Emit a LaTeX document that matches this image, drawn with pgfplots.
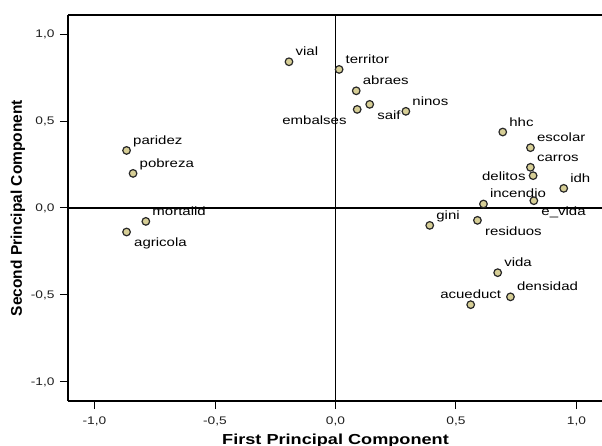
\documentclass[border=0pt]{standalone}
\usepackage{fontspec}
\setmainfont{Liberation Sans}[FakeStretch=1.25]
\newfontfamily\plainfont{Liberation Sans}
\usepackage{pgfplots}
\pgfplotsset{compat=1.18}
\definecolor{mk}{RGB}{214,206,150}
\definecolor{mkb}{RGB}{40,40,40}
\begin{document}
\begin{tikzpicture}
\begin{axis}[
  at={(0,0)}, anchor=south west,
  scale only axis, width=535bp, height=386bp,
  xmin=-1.11, xmax=1.11, ymin=-1.11, ymax=1.11,
  axis x line*=bottom, axis y line*=left,
  axis line style={line width=1.2bp, black},
  tick style={line width=1bp, black},
  major tick length=8bp, tick align=outside,
  xtick pos=bottom, ytick pos=left,
  xtick={-1,-0.5,0,0.5,1},
  xticklabels={{-1,0},{-0,5},{0,0},{0,5},{1,0}},
  ytick={-1,-0.5,0,0.5,1},
  yticklabels={{-1,0},{-0,5},{0,0},{0,5},{1,0}},
  xticklabel style={font=\fontsize{11bp}{12bp}\selectfont, yshift=-4bp, color={rgb,255:red,30;green,30;blue,30}},
  yticklabel style={font=\fontsize{11bp}{12bp}\selectfont, xshift=-2bp, color={rgb,255:red,30;green,30;blue,30}},
  xlabel={First Principal Component},
  ylabel={\plainfont Second Principal Component},
  every axis x label/.style={at={(axis description cs:0.5,-0.1114)}, anchor=base, font=\fontsize{14.5bp}{17bp}\selectfont\bfseries},
  every axis y label/.style={at={(axis description cs:-0.0935,0.5)}, anchor=center, rotate=90, font=\fontsize{15.5bp}{18bp}\selectfont\bfseries},
  clip=false,
  point meta=explicit symbolic,
  nodes near coords,
  every node near coord/.append style={font=\fontsize{12bp}{14bp}\selectfont, inner sep=0pt, text=black},
]
\draw[line width=1.2bp, black] (rel axis cs:0,1) -- (rel axis cs:1,1);
\draw[line width=1.2bp, black] (axis cs:0,-1.11) -- (axis cs:0,1.11);
\draw[line width=1.2bp, black] (axis cs:-1.11,0) -- (axis cs:1.11,0);
% above right
\addplot[only marks, mark=*, mark size=3.8bp, mark options={fill=mk, draw=mkb, line width=1.2bp},
  every node near coord/.append style={anchor=base west, xshift=6bp, yshift=6bp}] coordinates {
  (-0.193,0.841) [vial]
  (0.015,0.797) [territor]
  (0.086,0.674) [abraes]
  (0.292,0.556) [ninos]
  (-0.867,0.331) [paridez]
  (-0.840,0.199) [pobreza]
  (-0.787,-0.077) [mortalid]
  (0.694,0.437) [hhc]
  (0.809,0.347) [escolar]
  (0.809,0.234) [carros]
  (0.947,0.113) [idh]
  (0.614,0.023) [incendio]
  (0.391,-0.100) [gini]
  (0.673,-0.372) [vida]
  (0.726,-0.511) [densidad]
};
% below right
\addplot[only marks, mark=*, mark size=3.8bp, mark options={fill=mk, draw=mkb, line width=1.2bp},
  every node near coord/.append style={anchor=base west, xshift=7bp, yshift=-15bp}] coordinates {
  (-0.867,-0.138) [agricola]
  (0.142,0.596) [saif]
  (0.589,-0.071) [residuos]
  (0.823,0.042) [e\_vida]
};
% below left
\addplot[only marks, mark=*, mark size=3.8bp, mark options={fill=mk, draw=mkb, line width=1.2bp},
  every node near coord/.append style={anchor=base east, xshift=-10bp, yshift=-15bp}] coordinates {
  (0.090,0.567) [embalses]
};
% left
\addplot[only marks, mark=*, mark size=3.8bp, mark options={fill=mk, draw=mkb, line width=1.2bp},
  every node near coord/.append style={anchor=base east, xshift=-7bp, yshift=-4.5bp}] coordinates {
  (0.820,0.186) [delitos]
};
% above
\addplot[only marks, mark=*, mark size=3.8bp, mark options={fill=mk, draw=mkb, line width=1.2bp},
  every node near coord/.append style={anchor=base, yshift=6bp}] coordinates {
  (0.561,-0.556) [acueduct]
};
\end{axis}
\pgfresetboundingbox
\path[use as bounding box] (-68bp,-45bp) rectangle (534bp,401bp);
\end{tikzpicture}
\end{document}
